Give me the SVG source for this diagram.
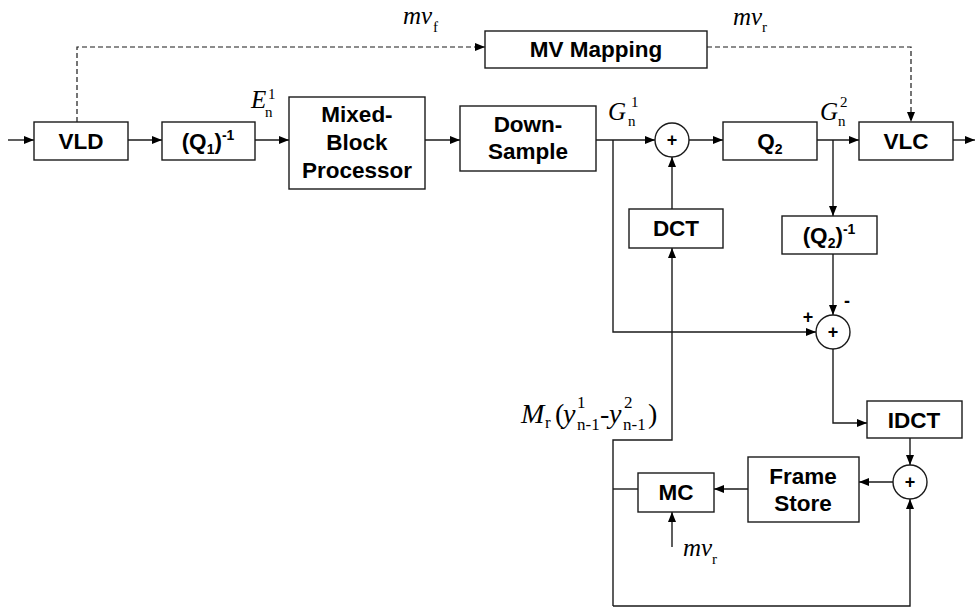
<svg xmlns="http://www.w3.org/2000/svg" width="976" height="608" viewBox="0 0 976 608">
<style>
.box{fill:#fff;stroke:#1a1a1a;stroke-width:1.4}
.sum{fill:#fff;stroke:#1a1a1a;stroke-width:1.4}
.bt{font-family:"Liberation Sans",Arial,sans-serif;font-weight:bold;font-size:22.5px;fill:#000;text-anchor:middle}
.sm{font-size:14px}
.ln{fill:none;stroke:#1a1a1a;stroke-width:1.4}
.dash{fill:none;stroke:#1a1a1a;stroke-width:1.2;stroke-dasharray:5 3}
.mi{font-family:"Liberation Serif","Times New Roman",serif;font-style:italic;font-size:25px;fill:#000}
.mr{font-family:"Liberation Serif","Times New Roman",serif;font-style:normal;font-size:15px;fill:#000}
.pl{font-family:"Liberation Sans",Arial,sans-serif;font-weight:bold;font-size:18px;fill:#000;text-anchor:middle}
.Mi{font-family:"Liberation Serif","Times New Roman",serif;font-style:italic;font-size:28px;fill:#000}
.Mn{font-family:"Liberation Serif","Times New Roman",serif;font-size:28px;fill:#000}
.Ms{font-family:"Liberation Serif","Times New Roman",serif;font-size:17px;fill:#000}
</style>
<defs>
<marker id="ah" viewBox="0 0 10 8" refX="10" refY="4" markerWidth="10" markerHeight="8" markerUnits="userSpaceOnUse" orient="auto">
<path d="M0,0 L10,4 L0,8 Z" fill="#000"/>
</marker>
</defs>
<rect width="976" height="608" fill="#fff"/>

<g id="connectors">
<path class="ln" d="M8,140 H34" marker-end="url(#ah)"/>
<path class="ln" d="M128,140 H162" marker-end="url(#ah)"/>
<path class="ln" d="M255,140 H289" marker-end="url(#ah)"/>
<path class="ln" d="M425,140 H460" marker-end="url(#ah)"/>
<path class="ln" d="M596,140 H655" marker-end="url(#ah)"/>
<path class="ln" d="M689,140 H723" marker-end="url(#ah)"/>
<path class="ln" d="M817,140 H859" marker-end="url(#ah)"/>
<path class="ln" d="M953,140 H975" marker-end="url(#ah)"/>
<path class="dash" d="M77,122 V47 H485" marker-end="url(#ah)"/>
<path class="dash" d="M707,47 H911 V122" marker-end="url(#ah)"/>
<path class="ln" d="M613,140 V332 H816" marker-end="url(#ah)"/>
<path class="ln" d="M672,209 V157" marker-end="url(#ah)"/>
<path class="ln" d="M833,140 V216" marker-end="url(#ah)"/>
<path class="ln" d="M833,254 V315" marker-end="url(#ah)"/>
<path class="ln" d="M833,349 V423 H867" marker-end="url(#ah)"/>
<path class="ln" d="M910,438 V465" marker-end="url(#ah)"/>
<path class="ln" d="M893,482 H859" marker-end="url(#ah)"/>
<path class="ln" d="M748,489 H714" marker-end="url(#ah)"/>
<path class="ln" d="M638,489 H613"/>
<path class="ln" d="M613,606 V440 H672 V248" marker-end="url(#ah)"/>
<path class="ln" d="M613,606 H910 V499" marker-end="url(#ah)"/>
<path class="ln" d="M672,547 V512" marker-end="url(#ah)"/>
</g>

<g id="vld"><rect class="box" x="34" y="122" width="94" height="38"/><text class="bt" x="81" y="149">VLD</text></g>
<g id="q1inv"><rect class="box" x="162" y="122" width="93" height="38"/><text class="bt" x="208" y="149">(Q<tspan class="sm" dy="5">1</tspan><tspan dy="-5">)</tspan><tspan class="sm" dy="-9">-1</tspan></text></g>
<g id="mixed"><rect class="box" x="289" y="97" width="136" height="92"/><text class="bt" x="357" y="122">Mixed-</text><text class="bt" x="357" y="150">Block</text><text class="bt" x="357" y="178">Processor</text></g>
<g id="downsample"><rect class="box" x="460" y="106" width="136" height="65"/><text class="bt" x="528" y="132">Down-</text><text class="bt" x="528" y="159">Sample</text></g>
<g id="mvmap"><rect class="box" x="485" y="31" width="222" height="37"/><text class="bt" x="596" y="57">MV Mapping</text></g>
<g id="q2"><rect class="box" x="723" y="122" width="94" height="38"/><text class="bt" x="770" y="149">Q<tspan class="sm" dy="5">2</tspan></text></g>
<g id="vlc"><rect class="box" x="859" y="122" width="94" height="38"/><text class="bt" x="906" y="149">VLC</text></g>
<g id="dct"><rect class="box" x="629" y="209" width="94" height="39"/><text class="bt" x="676" y="236">DCT</text></g>
<g id="q2inv"><rect class="box" x="782" y="216" width="95" height="38"/><text class="bt" x="829" y="243">(Q<tspan class="sm" dy="5">2</tspan><tspan dy="-5">)</tspan><tspan class="sm" dy="-9">-1</tspan></text></g>
<g id="idct"><rect class="box" x="867" y="401" width="95" height="37"/><text class="bt" x="914" y="428">IDCT</text></g>
<g id="framestore"><rect class="box" x="748" y="457" width="111" height="65"/><text class="bt" x="803" y="484">Frame</text><text class="bt" x="803" y="511">Store</text></g>
<g id="mc"><rect class="box" x="638" y="473" width="76" height="39"/><text class="bt" x="676" y="500">MC</text></g>

<g id="sum1"><circle class="sum" cx="672" cy="140" r="17"/><text class="pl" x="672" y="146">+</text></g>
<g id="sum2"><circle class="sum" cx="833" cy="332" r="17"/><text class="pl" x="833" y="338">+</text></g>
<g id="sum3"><circle class="sum" cx="910" cy="482" r="17"/><text class="pl" x="910" y="488">+</text></g>

<g id="labels">
<text class="pl" x="847" y="307">-</text>
<text class="pl" x="808" y="323">+</text>
<text class="mi" x="403" y="24">mv</text><text class="mr" x="433" y="32">f</text>
<text class="mi" x="733" y="25">mv</text><text class="mr" x="762" y="32">r</text>
<text class="mi" x="683" y="556">mv</text><text class="mr" x="712" y="564">r</text>
<text class="mi" x="251" y="108">E</text><text class="mr" x="265" y="117">n</text><text class="mr" x="268" y="99">1</text>
<text class="mi" x="608" y="120">G</text><text class="mr" x="628" y="126">n</text><text class="mr" x="631" y="107">1</text>
<text class="mi" x="820" y="120">G</text><text class="mr" x="838" y="126">n</text><text class="mr" x="840" y="107">2</text>
<text class="Mi" x="521" y="423">M</text>
<text class="Ms" x="545" y="428">r</text>
<text class="Mn" x="555" y="423">(</text>
<text class="Mi" x="563" y="423">y</text>
<text class="Ms" x="577" y="408">1</text>
<text class="Ms" x="577" y="430">n-1</text>
<text class="Mn" x="600" y="423">-</text>
<text class="Mi" x="609" y="423">y</text>
<text class="Ms" x="624" y="408">2</text>
<text class="Ms" x="623" y="430">n-1</text>
<text class="Mn" x="648" y="423">)</text>
</g>
</svg>
